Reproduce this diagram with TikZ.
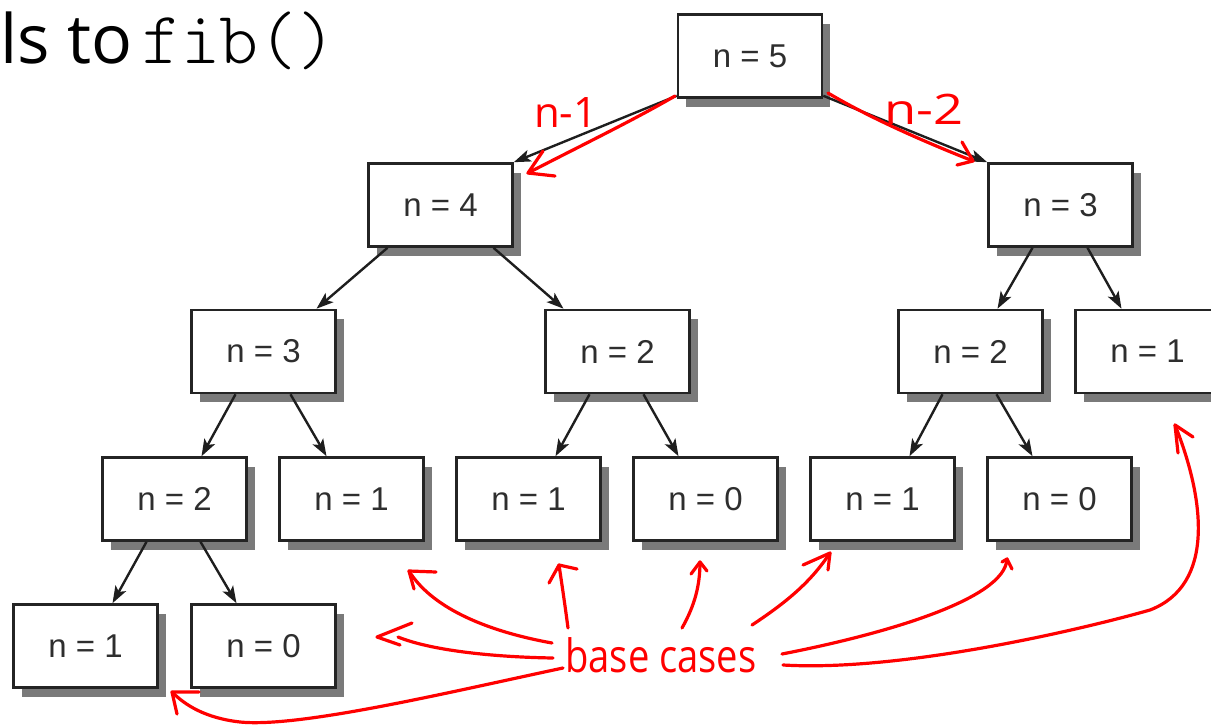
\documentclass[tikz,border=0pt]{standalone}
\usepackage{fontspec}
\setmainfont{Liberation Sans}
\newfontfamily\titlefont{Open Sans}
\newfontfamily\penfont{Open Sans}
\newfontfamily\codefont{lmmonolt10-regular.otf}
\usetikzlibrary{arrows.meta,shadows}

\definecolor{boxline}{HTML}{242424}
\definecolor{boxtext}{HTML}{2E2E2E}
\definecolor{shade}{HTML}{7A7A7A}
\definecolor{linkcol}{HTML}{1E1E1E}
\definecolor{pen}{HTML}{FF0000}

\tikzset{
  call/.style={draw=boxline, line width=2.6pt, fill=white,
    minimum width=144pt, minimum height=83pt, inner sep=0pt,
    font=\fontsize{33}{33}\selectfont, text=boxtext,
    drop shadow={shadow xshift=8pt, shadow yshift=-9pt, fill=shade, opacity=1}},
  link/.style={draw=linkcol, line width=2.4pt,
    -{Stealth[length=17pt,width=12pt,inset=4pt]}},
  ink/.style={draw=pen, line width=3.2pt, line cap=round, line join=round},
  pennote/.style={text=pen, inner sep=0pt, anchor=base west},
}

\begin{document}
\begin{tikzpicture}[x=1pt,y=-1pt]
\useasboundingbox (0,0) rectangle (1211,726);
\clip (0,0) rectangle (1211,726);

% heading
\node[anchor=base west, inner sep=0pt, font=\titlefont\fontsize{68}{68}\selectfont] (ttl) at (0,63) {ls to};
\node[anchor=base west, inner sep=0pt, font=\codefont\fontsize{74}{74}\selectfont] (fn) at (142,63) {fib()};

% call tree
\node[call] (n5)  at (750,56)    {n = 5};
\node[call] (n4)  at (440.5,205) {n = 4};
\node[call] (n3r) at (1060.5,205) {n = 3};
\node[call] (n3l) at (263.5,351.5) {n = 3};
\node[call] (n2m) at (617.5,351.5) {n = 2};
\node[call] (n2r) at (970.5,351.5) {n = 2};
\node[call] (n1r) at (1147.5,351.5) {n = 1};
\node[call] (n2a) at (174.5,499) {n = 2};
\node[call] (n1a) at (351.5,499) {n = 1};
\node[call] (n1b) at (528.5,499) {n = 1};
\node[call] (n0b) at (705.5,499) {n = 0};
\node[call] (n1c) at (882.5,499) {n = 1};
\node[call] (n0c) at (1059.5,499) {n = 0};
\node[call] (n1d) at (85.5,646) {n = 1};
\node[call] (n0d) at (263.5,646) {n = 0};

% recursive calls
\draw[link] ([yshift=3pt]n5.south west) -- (n4.north east);
\draw[link] ([yshift=3pt]n5.south east) -- (n3r.north west);
\draw[link] ([xshift=-53pt]n4.south) -- ([xshift=53pt]n3l.north);
\draw[link] ([xshift=53pt]n4.south) -- ([xshift=-54pt]n2m.north);
\draw[link] ([xshift=-28pt]n3r.south) -- ([xshift=27pt]n2r.north);
\draw[link] ([xshift=27pt]n3r.south) -- ([xshift=-26pt]n1r.north);
\draw[link] ([xshift=-28pt]n3l.south) -- ([xshift=27pt]n2a.north);
\draw[link] ([xshift=27pt]n3l.south) -- ([xshift=-25pt]n1a.north);
\draw[link] ([xshift=-28pt]n2m.south) -- ([xshift=27pt]n1b.north);
\draw[link] ([xshift=26pt]n2m.south) -- ([xshift=-27pt]n0b.north);
\draw[link] ([xshift=-28pt]n2r.south) -- ([xshift=27pt]n1c.north);
\draw[link] ([xshift=26pt]n2r.south) -- ([xshift=-27pt]n0c.north);
\draw[link] ([xshift=-28pt]n2a.south) -- ([xshift=27pt]n1d.north);
\draw[link] ([xshift=26pt]n2a.south) -- ([xshift=-27pt]n0d.north);

% pen notes
\node[pennote, font=\penfont\fontsize{42}{42}\selectfont] (lm1) at (534,127) {n-1};
\node[pennote, font=\penfont\fontsize{42}{42}\selectfont] (lm2) at (884,124) {\scalebox{1.25}[1]{n-2}};
\node[pennote, font=\penfont\fontsize{46}{46}\selectfont] (bc) at (565,672) {\scalebox{0.83}[1]{base cases}};

% n-1 and n-2 strokes
\coordinate (s1) at (675,96);  \coordinate (h1) at (528,173);
\draw[ink] (s1) .. controls (630,122) and (580,146) .. (h1);
\draw[ink] (h1) ++(15,-22) -- (h1) -- ++(27,3);
\coordinate (s2) at (828,93);  \coordinate (h2) at (973,161);
\draw[ink] (s2) .. controls (870,118) and (925,142) .. (h2);
\draw[ink] (h2) ++(-11,-19) -- (h2) -- ++(-16,4);

% strokes from "base cases"
\coordinate (sa) at (552,643); \coordinate (ha) at (409,571);
\draw[ink] (sa) .. controls (480,630) and (430,605) .. (ha);
\draw[ink] (ha) ++(27,1) -- (ha) -- ++(5,18);

\coordinate (sb) at (568,628); \coordinate (hb) at (559,565);
\draw[ink] (sb) .. controls (565,605) and (562,585) .. (hb);
\draw[ink] (hb) ++(-10,18) -- (hb) -- ++(18,4);

\coordinate (sc) at (682,628); \coordinate (hc) at (700,562);
\draw[ink] (sc) .. controls (695,605) and (700,585) .. (hc);
\draw[ink] (hc) ++(-9,12) -- (hc) -- ++(7,9);

\coordinate (sd) at (752,625); \coordinate (hd) at (830,553);
\draw[ink] (sd) .. controls (790,600) and (812,580) .. (hd);
\draw[ink] (hd) ++(-27,12) -- (hd) -- ++(-2,17);

\coordinate (se) at (782,654); \coordinate (he) at (1007,559);
\draw[ink] (se) .. controls (880,635) and (1005,600) .. (he);
\draw[ink] (he) ++(-5,3) -- (he) -- ++(5,10);

\coordinate (sf) at (783,665); \coordinate (hf) at (1175,425);
\draw[ink] (sf) .. controls (900,672) and (1080,630) .. (1150,610)
              .. controls (1215,585) and (1205,500) .. (hf);
\draw[ink] (hf) ++(18,12) -- (hf) -- ++(3,28);

\coordinate (sg) at (553,658); \coordinate (gend) at (398,637); \coordinate (hg) at (377,637);
\draw[ink] (sg) .. controls (490,657) and (430,650) .. (gend);
\draw[ink] (hg) ++(35,-14) -- (hg) -- ++(23,8);

\coordinate (sh) at (563,668); \coordinate (hh) at (172,692);
\draw[ink] (sh) .. controls (450,692) and (300,728) .. (240,722)
              .. controls (205,718) and (185,705) .. (hh);
\draw[ink] (hh) ++(27,0) -- (hh) -- ++(5,22);
\end{tikzpicture}
\end{document}
